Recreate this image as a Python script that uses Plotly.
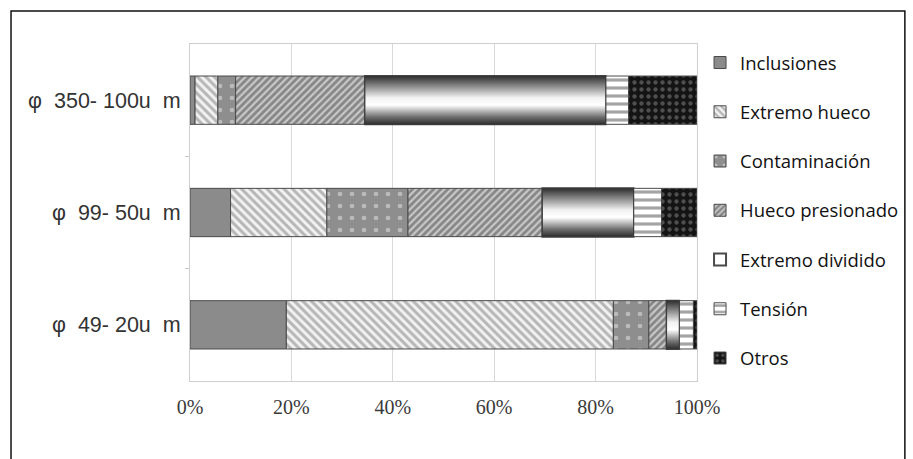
import plotly.graph_objects as go

# Particle-size classes (bottom to top on the chart)
categories = ["φ\u00a0 49- 20u\u00a0 m", "φ\u00a0 99- 50u\u00a0 m", "φ\u00a0 350- 100u\u00a0 m"]

# Share of each defect type per class, in percent
inclusiones = [19, 8, 1]
extremo_hueco = [64.5, 19, 4.5]
contaminacion = [7, 16, 3.5]
hueco_presionado = [3.5, 26.5, 25.5]
extremo_dividido = [2.5, 18, 47.5]
tension = [2.8, 5.5, 4.5]
otros = [0.7, 7, 13.5]

x_ticks = [0, 20, 40, 60, 80, 100]

series = [
    ("Inclusiones", inclusiones),
    ("Extremo hueco", extremo_hueco),
    ("Contaminación", contaminacion),
    ("Hueco presionado", hueco_presionado),
    ("Extremo dividido", extremo_dividido),
    ("Tensión", tension),
    ("Otros", otros),
]

styles = {
    "Inclusiones": dict(color="#8b8b8b", pattern=dict(shape="")),
    "Extremo hueco": dict(color="#f2f2f2", pattern=dict(shape="\\", fgcolor="#7a7a7a",
                                                         bgcolor="#f2f2f2", size=6, solidity=0.5)),
    "Contaminación": dict(color="#8e8e8e", pattern=dict(shape=".", fgcolor="#e8e8e8",
                                                        bgcolor="#8e8e8e", size=12, solidity=0.12)),
    "Hueco presionado": dict(color="#c8c8c8", pattern=dict(shape="/", fgcolor="#444444",
                                                           bgcolor="#c8c8c8", size=5, solidity=0.55)),
    "Extremo dividido": dict(color="#ffffff", pattern=dict(shape="")),
    "Tensión": dict(color="#ffffff", pattern=dict(shape="-", fgcolor="#4a4a4a",
                                                  bgcolor="#ffffff", size=8, solidity=0.4)),
    "Otros": dict(color="#141414", pattern=dict(shape=".", fgcolor="#8a8a8a",
                                                bgcolor="#141414", size=7, solidity=0.3)),
}

positions = list(range(len(categories)))
bar_w = 0.43

fig = go.Figure()

base = [0.0] * len(categories)
bases = {}
for name, vals in series:
    bases[name] = list(base)
    st = styles[name]
    line_w = 2 if name == "Extremo dividido" else 1
    fig.add_trace(go.Bar(
        y=positions, x=vals, base=list(base), width=bar_w, orientation="h",
        name=name, legendgroup=name,
        marker=dict(color=st["color"], pattern=st["pattern"],
                    line=dict(color="#4a4a4a", width=line_w)),
        hoverinfo="name+x",
    ))
    base = [b + v for b, v in zip(base, vals)]

# Cylinder-style shading for "Extremo dividido" segments
shade = [[0.0, "#2e2e2e"], [0.15, "#6e6e6e"], [0.4, "#ffffff"],
         [0.55, "#f2f2f2"], [0.8, "#858585"], [1.0, "#2e2e2e"]]
for p, b, v in zip(positions, bases["Extremo dividido"], extremo_dividido):
    y0, y1 = p - bar_w / 2, p + bar_w / 2
    fig.add_trace(go.Scatter(
        x=[b, b + v, b + v, b, b], y=[y0, y0, y1, y1, y0],
        mode="lines", fill="toself",
        fillgradient=dict(type="vertical", colorscale=shade, start=y0, stop=y1),
        line=dict(color="#3a3a3a", width=1),
        showlegend=False, hoverinfo="skip",
    ))

fig.update_layout(
    width=913, height=459,
    margin=dict(l=190, r=216, t=44, b=78, autoexpand=False),
    paper_bgcolor="white", plot_bgcolor="white",
    barmode="overlay",
    showlegend=True,
    legend=dict(
        x=1.006, xanchor="left", y=1.0, yanchor="top",
        font=dict(family="Open Sans", size=18.5, color="#111111"),
        tracegroupgap=22.2, traceorder="grouped",
        bgcolor="rgba(0,0,0,0)",
    ),
    xaxis=dict(
        range=[0, 100], tickvals=x_ticks, ticktext=[f"{v}%" for v in x_ticks],
        showgrid=True, gridcolor="#d9d9d9", gridwidth=1,
        showline=True, linecolor="#cfcfcf", mirror=True, zeroline=False,
        ticks="", ticklabelstandoff=8,
        tickfont=dict(family="Liberation Serif", size=20, color="#3a3a3a"),
    ),
    yaxis=dict(
        range=[-0.5, 2.5], tickvals=positions, ticktext=categories,
        showgrid=False, zeroline=False,
        showline=True, linecolor="#cfcfcf", mirror=True,
        ticks="", ticklabelstandoff=4,
        minor=dict(tickvals=[0.5, 1.5], ticks="outside", ticklen=4, tickcolor="#c8c8c8"),
        tickfont=dict(family="Liberation Sans", size=21.5, color="#333333"),
    ),
    shapes=[dict(
        type="rect", xref="paper", yref="paper",
        x0=-0.353, x1=1.41, y0=-0.3, y1=1.098,
        line=dict(color="#111111", width=1.5), fillcolor="rgba(0,0,0,0)",
    )],
)

fig.write_html("out.html")
